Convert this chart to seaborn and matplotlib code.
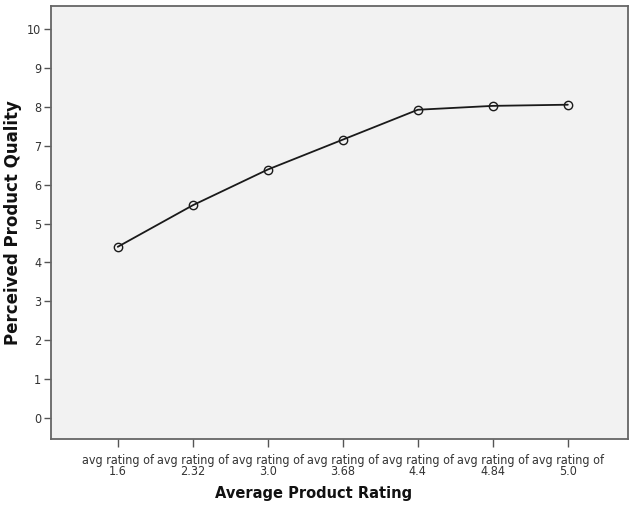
import matplotlib
matplotlib.use("Agg")
import matplotlib.pyplot as plt
import seaborn as sns
import pandas as pd

categories = ["avg rating of\n1.6", "avg rating of\n2.32", "avg rating of\n3.0",
              "avg rating of\n3.68", "avg rating of\n4.4", "avg rating of\n4.84",
              "avg rating of\n5.0"]
quality = [4.40, 5.47, 6.39, 7.16, 7.93, 8.03, 8.06]
y_ticks = [0, 1, 2, 3, 4, 5, 6, 7, 8, 9, 10]

sns.set_theme(style="ticks")
plt.rcParams['font.family'] = ['DejaVu Sans']

df = pd.DataFrame({"cat": categories, "q": quality})
df["x"] = range(len(categories))

fig = plt.figure(figsize=(6.29, 5.12), dpi=100)
ax = fig.add_axes([0.0811, 0.1426, 0.917, 0.8455])
ax.set_facecolor("#f2f2f2")

sns.lineplot(data=df, x="x", y="q", ax=ax, color="#1a1a1a", linewidth=1.3,
             marker="o", markersize=6, markerfacecolor="none",
             markeredgecolor="#1a1a1a", markeredgewidth=1.0)

ax.set_xlim(-0.89, 6.8)
ax.set_ylim(-0.55, 10.6)
ax.set_xticks(range(len(categories)))
ax.set_xticklabels(categories, fontsize=9, linespacing=0.8, fontstretch="condensed")
ax.set_yticks(y_ticks)
ax.set_yticklabels([str(v) for v in y_ticks], fontsize=9, fontstretch="condensed")
ax.tick_params(axis='x', length=6, width=1, color="#555555", labelcolor="#333333", pad=5)
ax.tick_params(axis='y', length=5, width=1, color="#555555", labelcolor="#333333", pad=2)

for s in ax.spines.values():
    s.set_color("#666666")
    s.set_linewidth(1.3)

ax.set_xlabel("Average Product Rating", fontsize=10.5, fontweight="bold",
              color="#111111")
ax.xaxis.set_label_coords(0.456, -0.108)
ax.set_ylabel("Perceived Product Quality", fontsize=12, fontweight="bold",
              color="#111111")
ax.yaxis.set_label_coords(-0.050, 0.5)

fig.savefig("out.png", dpi=100, facecolor="white")
